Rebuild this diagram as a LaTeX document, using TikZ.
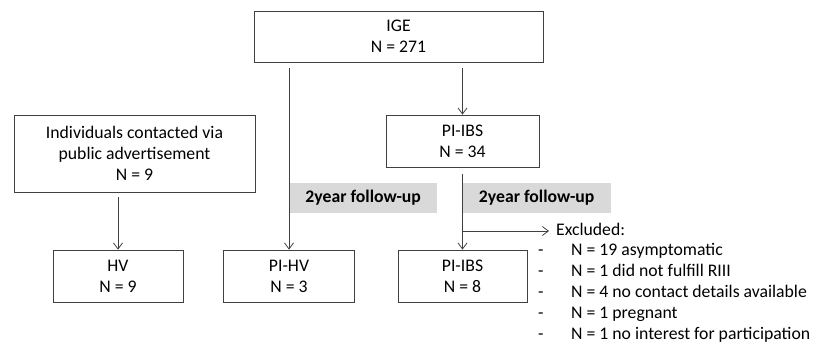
\documentclass[tikz,border=0pt]{standalone}
\usepackage{fontspec}
\setmainfont{Carlito}
\usetikzlibrary{arrows.meta}
\definecolor{linegray}{RGB}{64,64,64}
\definecolor{labelgray}{RGB}{217,217,217}
\tikzset{>={Straight Barb[length=6pt,width=9pt]}}
\tikzset{box/.style={draw=linegray, line width=0.8pt, align=center, inner sep=0pt, minimum height=52pt},
  followup/.style={fill=labelgray, font=\fontsize{17.7}{21}\selectfont\bfseries, minimum width=148pt, minimum height=30pt, inner sep=0pt},
  link/.style={->, draw=linegray, line width=0.8pt},
  listline/.style={anchor=west, inner sep=0pt, text height=12pt, text depth=4pt}}

\begin{document}
\begin{tikzpicture}[x=1pt, y=-1pt, font=\fontsize{17.7}{21}\selectfont]
\useasboundingbox (0,0) rectangle (813,350);
\node[box, minimum width=289pt, minimum height=51pt] (IGE) at (398.5,36.5) {IGE\\N = 271};
\node[box, minimum width=241pt, minimum height=77pt] (public) at (134.5,153.5) {Individuals contacted via\\public advertisement\\N = 9};
\node[box, minimum width=153pt] (PIIBSa) at (462.5,141) {PI-IBS\\N = 34};
\node[box, minimum width=130pt] (HV) at (118,276) {HV\\N = 9};
\node[box, minimum width=131pt] (PIHV) at (289,276) {PI-HV\\N = 3};
\node[box, minimum width=129pt] (PIIBSb) at (462.5,276) {PI-IBS\\N = 8};
% follow-up labels
\node[followup, anchor=west] (fuHV) at (289,198) {2year follow-up};
\node[followup, anchor=west] (fuIBS) at (462.5,198) {2year follow-up};
% arrows
\draw[link, shorten <=6pt] (IGE.south -| PIHV.north) -- (PIHV.north);
\draw[link, shorten <=6pt] (IGE.south -| PIIBSa.north) -- (PIIBSa.north);
\draw[link, shorten <=5pt] (public.south -| HV.north) -- (HV.north);
\draw[link, shorten <=7pt] (PIIBSa.south) -- (PIIBSb.north);
% excluded
\node[listline] (excl) at (556,231) {Excluded:};
\draw[link, shorten >=7pt] (PIIBSa.south |- excl.west) -- (excl.west);
\foreach \reason [count=\i] in {N = 19 asymptomatic, N = 1 did not fulfill RIII, N = 4 no contact details available, N = 1 pregnant, N = 1 no interest for participation}
{
\node[listline] (dash\i) at (538,231+20.8*\i) {-};
\node[listline] (reason\i) at (571,231+20.8*\i) {\reason};
}
\end{tikzpicture}
\end{document}
